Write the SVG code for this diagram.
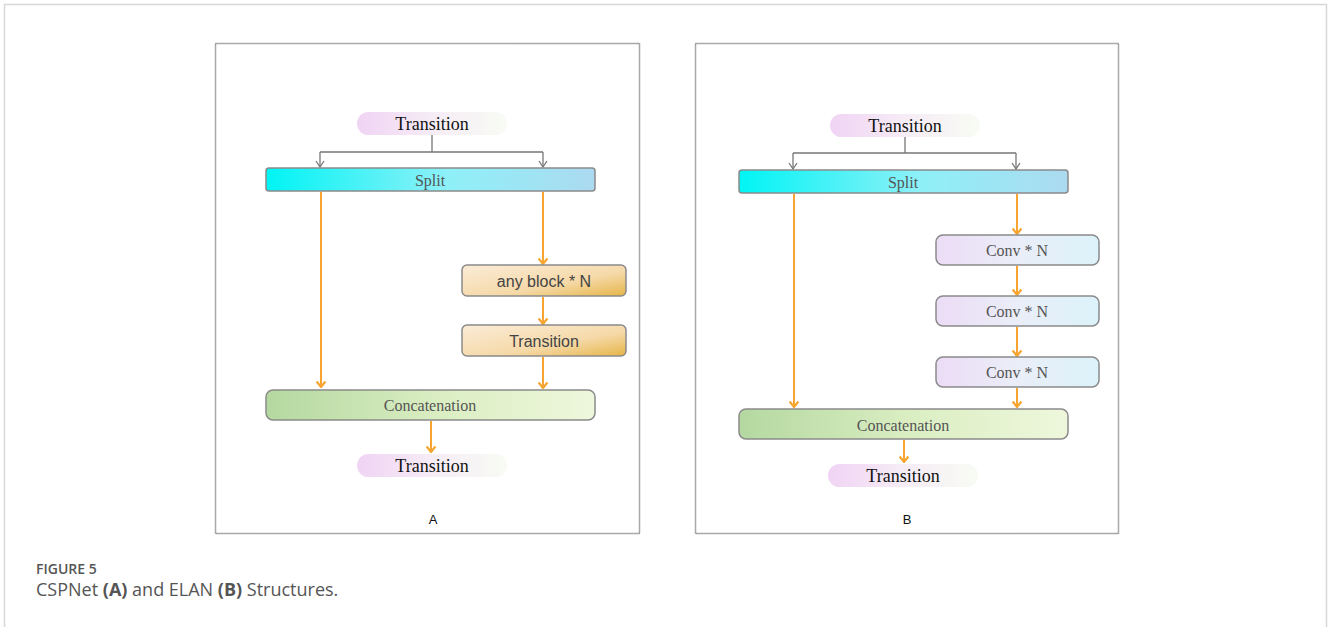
<svg xmlns="http://www.w3.org/2000/svg" width="1328" height="627" viewBox="0 0 1328 627">
<style>
.frame{fill:none;stroke:#555;stroke-width:1.5;stroke-dasharray:1 1}
.box{stroke:#8a8a8a;stroke-width:1.5}
.serif{font-family:"Liberation Serif",serif;text-anchor:middle;dominant-baseline:central}
.trans{font-size:18px;fill:#111}
.lbl{font-size:16px;fill:#555}
.sans{font-family:"Liberation Sans",Arial,sans-serif;text-anchor:middle;dominant-baseline:central}
.gray{fill:none;stroke:#777;stroke-width:1.3}
.orange{fill:none;stroke:#f7a530;stroke-width:2}
</style>
<defs>
<linearGradient id="gPill" x1="0" y1="0" x2="1" y2="0"><stop offset="0" stop-color="#f0d4f4"/><stop offset="0.5" stop-color="#f6ecf6"/><stop offset="1" stop-color="#f8fbf4"/></linearGradient>
<linearGradient id="gSplit" x1="0" y1="0" x2="1" y2="0"><stop offset="0" stop-color="#00f4f4"/><stop offset="0.55" stop-color="#8ef0f8"/><stop offset="1" stop-color="#acdaf0"/></linearGradient>
<linearGradient id="gGold" x1="0" y1="0" x2="1" y2="1"><stop offset="0" stop-color="#fbecd8"/><stop offset="0.6" stop-color="#f5d9a8"/><stop offset="1" stop-color="#e6b548"/></linearGradient>
<linearGradient id="gConcat" x1="0" y1="0" x2="1" y2="0"><stop offset="0" stop-color="#b4d8a0"/><stop offset="0.55" stop-color="#dcefc4"/><stop offset="1" stop-color="#eef7dc"/></linearGradient>
<linearGradient id="gConv" x1="0" y1="0" x2="1" y2="0"><stop offset="0" stop-color="#ecdcf6"/><stop offset="0.5" stop-color="#eaeef8"/><stop offset="1" stop-color="#dcf2fa"/></linearGradient>
<marker id="ag" viewBox="0 0 10 10" refX="9" refY="5" markerWidth="10" markerHeight="10" markerUnits="userSpaceOnUse" orient="auto"><path d="M3,1 L9,5 L3,9" fill="none" stroke="#777" stroke-width="1.3"/></marker>
<marker id="ao" viewBox="0 0 10 10" refX="9" refY="5" markerWidth="11" markerHeight="11" markerUnits="userSpaceOnUse" orient="auto"><path d="M4,1 L9,5 L4,9" fill="none" stroke="#f7a530" stroke-width="2"/></marker>
</defs>
<rect x="0" y="0" width="1328" height="627" fill="#fff"/>
<path d="M4.5,640 V4.5 H1326.5 V640" fill="none" stroke="#d8d8d8" stroke-width="1.5"/>
<rect class="frame" x="215.5" y="43.5" width="424" height="490"/>
<rect class="frame" x="695.5" y="43.5" width="423" height="490"/>

<g id="connectors">
<path class="gray" d="M432,135 V152 M320,152 H543" />
<path class="gray" d="M320,152 V167" marker-end="url(#ag)"/>
<path class="gray" d="M543,152 V167" marker-end="url(#ag)"/>
<path class="orange" d="M321,192 V387" marker-end="url(#ao)"/>
<path class="orange" d="M543,192 V264" marker-end="url(#ao)"/>
<path class="orange" d="M543,297 V324" marker-end="url(#ao)"/>
<path class="orange" d="M543,357 V388" marker-end="url(#ao)"/>
<path class="orange" d="M431,421 V452" marker-end="url(#ao)"/>

<path class="gray" d="M905,137 V153 M793,153 H1016" />
<path class="gray" d="M793,153 V169" marker-end="url(#ag)"/>
<path class="gray" d="M1016,153 V169" marker-end="url(#ag)"/>
<path class="orange" d="M794,194 V407" marker-end="url(#ao)"/>
<path class="orange" d="M1017,194 V234" marker-end="url(#ao)"/>
<path class="orange" d="M1017,266 V295" marker-end="url(#ao)"/>
<path class="orange" d="M1017,327 V356" marker-end="url(#ao)"/>
<path class="orange" d="M1017,388 V407" marker-end="url(#ao)"/>
<path class="orange" d="M904,440 V462" marker-end="url(#ao)"/>
</g>

<g id="a-transition-top"><rect x="357" y="112" width="150" height="23" rx="11.5" fill="url(#gPill)"/><text class="serif trans" x="432" y="124">Transition</text></g>
<g id="a-split"><rect class="box" x="266" y="168" width="329" height="23" rx="3" fill="url(#gSplit)"/><text class="serif lbl" x="430" y="180">Split</text></g>
<g id="a-anyblock"><rect class="box" x="462" y="265" width="164" height="31" rx="5" fill="url(#gGold)"/><text class="sans" x="544" y="281" font-size="16" fill="#444">any block * N</text></g>
<g id="a-transition-mid"><rect class="box" x="462" y="325" width="164" height="31" rx="5" fill="url(#gGold)"/><text class="sans" x="544" y="341" font-size="16" fill="#444">Transition</text></g>
<g id="a-concat"><rect class="box" x="266" y="390" width="329" height="30" rx="7" fill="url(#gConcat)"/><text class="serif lbl" x="430" y="405">Concatenation</text></g>
<g id="a-transition-bot"><rect x="357" y="454" width="150" height="23" rx="11.5" fill="url(#gPill)"/><text class="serif trans" x="432" y="466">Transition</text></g>
<text class="sans" x="433" y="519" font-size="13" fill="#111">A</text>

<g id="b-transition-top"><rect x="830" y="114" width="150" height="23" rx="11.5" fill="url(#gPill)"/><text class="serif trans" x="905" y="126">Transition</text></g>
<g id="b-split"><rect class="box" x="739" y="170" width="329" height="23" rx="3" fill="url(#gSplit)"/><text class="serif lbl" x="903" y="182">Split</text></g>
<g id="b-conv1"><rect class="box" x="936" y="235" width="163" height="30" rx="7" fill="url(#gConv)"/><text class="serif lbl" x="1017" y="250">Conv * N</text></g>
<g id="b-conv2"><rect class="box" x="936" y="296" width="163" height="30" rx="7" fill="url(#gConv)"/><text class="serif lbl" x="1017" y="311">Conv * N</text></g>
<g id="b-conv3"><rect class="box" x="936" y="357" width="163" height="30" rx="7" fill="url(#gConv)"/><text class="serif lbl" x="1017" y="372">Conv * N</text></g>
<g id="b-concat"><rect class="box" x="739" y="409" width="329" height="30" rx="7" fill="url(#gConcat)"/><text class="serif lbl" x="903" y="425">Concatenation</text></g>
<g id="b-transition-bot"><rect x="828" y="464" width="150" height="23" rx="11.5" fill="url(#gPill)"/><text class="serif trans" x="903" y="476">Transition</text></g>
<text class="sans" x="907" y="519" font-size="13" fill="#111">B</text>

<text x="36" y="574" font-family="'Open Sans','Liberation Sans',sans-serif" font-size="14" font-weight="600" fill="#555">FIGURE 5</text>
<text x="36" y="596" font-family="'Open Sans','Liberation Sans',sans-serif" font-size="18" fill="#555">CSPNet <tspan font-weight="bold">(A)</tspan> and ELAN <tspan font-weight="bold">(B)</tspan> Structures.</text>
</svg>
